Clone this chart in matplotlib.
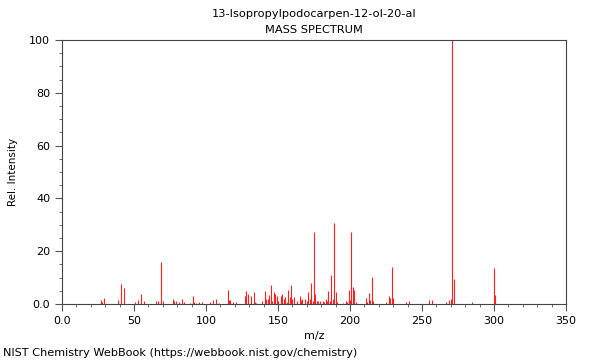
import matplotlib
matplotlib.use("Agg")
import matplotlib.pyplot as plt
from matplotlib.ticker import MultipleLocator, FixedLocator, FixedFormatter

title_line1 = "13-Isopropylpodocarpen-12-ol-20-al"
title_line2 = "MASS SPECTRUM"
x_label = "m/z"
y_label = "Rel. Intensity"
footer = "NIST Chemistry WebBook (https://webbook.nist.gov/chemistry)"

mz = [27, 28, 29, 39, 41, 43, 51, 53, 55, 57, 65, 67, 69, 70, 77, 78, 79, 81, 83, 85,
      89, 91, 92, 93, 95, 97, 103, 105, 107, 109, 115, 116, 117, 119, 121, 127, 128, 129,
      131, 133, 134, 135, 139, 141, 142, 143, 144, 145, 146, 147, 148, 149, 150, 152, 153,
      154, 155, 156, 157, 158, 159, 160, 161, 163, 165, 166, 167, 169, 170, 171, 172, 173,
      174, 175, 176, 177, 178, 179, 181, 182, 183, 184, 185, 186, 187, 188, 189, 190, 191,
      195, 197, 198, 199, 200, 201, 202, 203, 204, 211, 212, 213, 214, 215, 216, 225, 227,
      228, 229, 230, 239, 241, 255, 257, 267, 269, 270, 271, 272, 285, 300, 301]
intensity = [1.4, 0.6, 2.3, 1.5, 7.7, 6.1, 0.8, 1.5, 3.8, 1.0, 1.2, 1.2, 15.9, 1.0, 2.0, 1.2,
             1.1, 0.9, 2.0, 0.6, 0.5, 3.0, 0.7, 0.5, 0.9, 0.9, 0.9, 1.5, 1.8, 0.5, 5.4, 1.5,
             1.5, 0.6, 0.6, 3.2, 5.0, 3.8, 2.9, 4.7, 0.6, 0.5, 1.0, 5.0, 2.0, 1.9, 3.4, 7.1,
             1.3, 4.4, 3.6, 3.0, 1.1, 3.0, 3.7, 2.0, 2.6, 0.8, 5.4, 2.6, 7.2, 2.0, 2.6, 1.1,
             3.0, 1.4, 2.0, 2.0, 1.3, 4.7, 2.0, 8.1, 1.2, 27.4, 3.8, 1.2, 1.3, 1.0, 1.3, 0.8,
             1.8, 1.0, 4.8, 1.3, 11.0, 1.8, 30.5, 4.5, 0.8, 0.5, 1.3, 0.8, 5.3, 1.6, 27.4,
             6.4, 5.3, 0.8, 2.2, 0.9, 4.0, 1.5, 10.4, 1.3, 0.6, 2.9, 2.1, 14.0, 2.4, 0.6, 1.0,
             1.5, 1.4, 0.6, 1.5, 1.8, 100.0, 9.3, 0.6, 13.6, 3.4]

x_ticks = [0, 50, 100, 150, 200, 250, 300, 350]
x_tick_labels = ["0.0", "50", "100", "150", "200", "250", "300", "350"]
y_ticks = [0, 20, 40, 60, 80, 100]
y_tick_labels = ["0.0", "20", "40", "60", "80", "100"]

fig = plt.figure(figsize=(6, 3.6), dpi=100)
ax = fig.add_axes([62/600, 1-304/360, 504/600, 264/360])

ax.vlines(mz, 0, intensity, colors="#ff2020", linewidth=0.8)

ax.set_xlim(0, 350)
ax.set_ylim(0, 100)
ax.xaxis.set_major_locator(FixedLocator(x_ticks))
ax.xaxis.set_major_formatter(FixedFormatter(x_tick_labels))
ax.yaxis.set_major_locator(FixedLocator(y_ticks))
ax.yaxis.set_major_formatter(FixedFormatter(y_tick_labels))
ax.xaxis.set_minor_locator(MultipleLocator(10))
ax.yaxis.set_minor_locator(MultipleLocator(5))
ax.tick_params(which="major", length=5, width=0.8, color="#555555", labelsize=8)
ax.tick_params(which="minor", length=2.5, width=0.6, color="#555555")
for s in ax.spines.values():
    s.set_color("#444444")
    s.set_linewidth(0.8)

ax.set_xlabel(x_label, fontsize=8, labelpad=4)
ax.set_ylabel(y_label, fontsize=7.5, labelpad=8)

cx = (62 + 566) / 2 / 600
fig.text(cx, 1 - 14/360, title_line1, ha="center", va="center", fontsize=8.2)
fig.text(cx, 1 - 30/360, title_line2, ha="center", va="center", fontsize=8.2)
fig.text(3/600, 1 - 353/360, footer, ha="left", va="center", fontsize=8.1)

fig.savefig("out.png", dpi=100)
